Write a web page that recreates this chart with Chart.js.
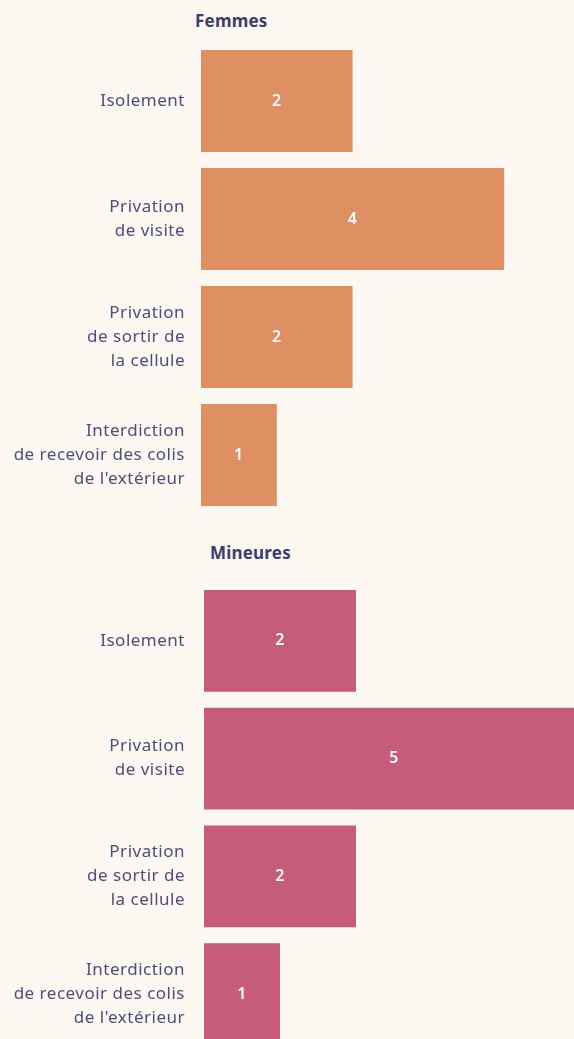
<!DOCTYPE html>
<html lang="fr">
<head>
<meta charset="utf-8">
<script src="https://cdn.jsdelivr.net/npm/chart.js@4.4.1/dist/chart.umd.min.js"></script>
<style>
  html, body { margin: 0; padding: 0; background: #fdf8f2; }
  body { width: 574px; height: 1039px; overflow: hidden; position: relative; font-family: "Noto Sans", sans-serif; }
  .panel { position: absolute; left: 0; width: 600px; }
  .title { position: absolute; font-weight: 700; font-size: 17px; color: #3b3d70; line-height: 1; letter-spacing: 0.2px; }
</style>
</head>
<body>
<div class="title" style="left:195px; top:12px;">Femmes</div>
<div class="title" style="left:210px; top:544px;">Mineures</div>
<div class="panel" style="top:0; height:530px;"><canvas id="femmes"></canvas></div>
<div class="panel" style="top:530px; height:540px;"><canvas id="mineures"></canvas></div>
<script>
// Sanctions par catégorie
const categories = [
  ['Isolement'],
  ['Privation', 'de visite'],
  ['Privation', 'de sortir de', 'la cellule'],
  ['Interdiction', 'de recevoir des colis', "de l'extérieur"]
];
const femmesValues = [2, 4, 2, 1];
const mineuresValues = [2, 5, 2, 1];

// Slightly open letter spacing for all canvas text
const spacing = {
  id: 'spacing',
  beforeDraw(chart) { chart.ctx.letterSpacing = '0.5px'; }
};

// Writes each bar's value in the middle of the bar
const valueLabels = {
  id: 'valueLabels',
  afterDatasetsDraw(chart) {
    const ctx = chart.ctx;
    const meta = chart.getDatasetMeta(0);
    const data = chart.data.datasets[0].data;
    ctx.save();
    ctx.fillStyle = '#ffffff';
    ctx.font = '600 16px "Noto Sans", sans-serif';
    ctx.textAlign = 'center';
    ctx.textBaseline = 'middle';
    meta.data.forEach((bar, i) => {
      ctx.fillText(String(data[i]), (bar.x + bar.base) / 2, bar.y);
    });
    ctx.restore();
  }
};

function makeChart(id, values, color, left, padding) {
  return new Chart(document.getElementById(id), {
    type: 'bar',
    data: {
      labels: categories,
      datasets: [{ data: values, backgroundColor: color, borderWidth: 0,
        categoryPercentage: 1, barPercentage: 102 / 118 }]
    },
    options: {
      indexAxis: 'y',
      responsive: true,
      maintainAspectRatio: false,
      animation: false,
      layout: { padding: padding },
      plugins: { legend: { display: false }, tooltip: { enabled: false } },
      scales: {
        x: { min: 0, max: 5, display: false },
        y: {
          grid: { display: false, drawTicks: false },
          border: { display: false },
          ticks: {
            padding: left - 185,
            color: '#4b4e7d',
            font: { family: '"Noto Sans", sans-serif', size: 17, lineHeight: 24 / 17 }
          },
          afterFit(scale) {
            scale.width = left;
            scale.paddingTop = 0;
            scale.paddingBottom = 0;
          }
        }
      }
    },
    plugins: [spacing, valueLabels]
  });
}

makeChart('femmes', femmesValues, '#df9062', 201, { top: 42, bottom: 16, right: 20, left: 0 });
makeChart('mineures', mineuresValues, '#c75b7a', 204, { top: 52, bottom: 17, right: 16, left: 0 });
</script>
</body>
</html>
